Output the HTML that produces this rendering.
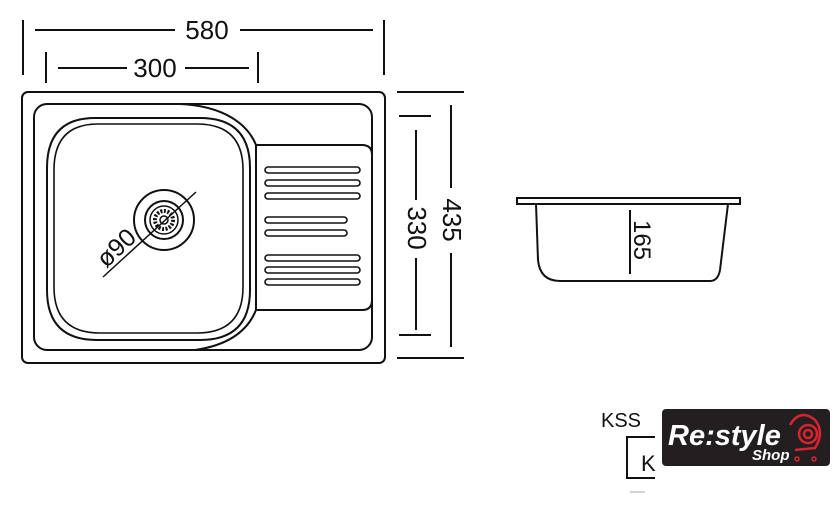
<!DOCTYPE html>
<html><head><style>
body{margin:0;background:#fff;width:840px;height:520px;overflow:hidden}
</style></head><body>
<svg width="840" height="520" viewBox="0 0 840 520" xmlns="http://www.w3.org/2000/svg" font-family="Liberation Sans, sans-serif">
<g stroke="#111" stroke-width="2" fill="none">
<line x1="23" y1="20" x2="23" y2="75"/><line x1="384" y1="20" x2="384" y2="75"/>
<line x1="35" y1="30" x2="175" y2="30"/><line x1="240" y1="30" x2="373" y2="30"/>
<line x1="46" y1="52" x2="46" y2="83"/><line x1="258" y1="52" x2="258" y2="83"/>
<line x1="58" y1="68" x2="127" y2="68"/><line x1="185" y1="68" x2="249" y2="68"/>
<rect x="22" y="92" width="363" height="271" rx="6"/>
<rect x="34" y="104" width="338" height="246" rx="13"/>
<path d="M180 104 C225 106 248 125 256 145 L256 310 C248 330 230 345 195 350"/>
<path d="M256 145 L362 145 Q372 145 372 155 L372 300 Q372 310 362 310 L256 310"/>
<path d="M95 118 L200 118 Q250 118 250 168 L250 290 Q250 340 200 340 L97 340 Q47 340 47 290 L47 168 Q47 118 95 118 Z"/>
<path d="M98 124 L197 124 Q243 124 243 170 L243 287 Q243 333 197 333 L100 333 Q54 333 54 287 L54 170 Q54 124 98 124 Z" stroke-width="1.6"/>
<circle cx="164" cy="220" r="30"/>
<circle cx="164" cy="220" r="19"/>
<circle cx="164" cy="220" r="14" stroke-width="1.5"/>
<circle cx="164" cy="220" r="9" stroke-width="4" stroke-dasharray="2 1.5"/>
<circle cx="164" cy="220" r="4" stroke-width="1.5"/>
<line x1="196" y1="192" x2="103" y2="277" stroke-width="1.5"/>
<g stroke-width="1.6">
<rect x="265" y="167" width="95" height="6" rx="3"/><rect x="265" y="180" width="95" height="6" rx="3"/><rect x="265" y="193" width="95" height="6" rx="3"/>
<rect x="265" y="217" width="82" height="6" rx="3"/><rect x="265" y="230" width="82" height="6" rx="3"/>
<rect x="265" y="255" width="95" height="6" rx="3"/><rect x="265" y="267" width="95" height="6" rx="3"/><rect x="265" y="279" width="95" height="6" rx="3"/>
</g>
<line x1="397" y1="92" x2="464" y2="92"/><line x1="397" y1="358" x2="464" y2="358"/>
<line x1="451" y1="105" x2="451" y2="188"/><line x1="451" y1="253" x2="451" y2="347"/>
<line x1="399" y1="116" x2="431" y2="116"/><line x1="399" y1="335" x2="431" y2="335"/>
<line x1="416" y1="130" x2="416" y2="200"/><line x1="416" y1="258" x2="416" y2="330"/>
<rect x="517" y="198" width="223" height="6"/>
<path d="M536 204 L538 260 Q540 281 560 281 L710 281 Q718 281 720 270 L728 204"/>
<line x1="630" y1="210" x2="630" y2="274"/>
<path d="M655 437 L627 437 L627 478 L655 478"/>
<line x1="630" y1="492" x2="645" y2="492" stroke="#aaa" stroke-width="1"/>
</g>
<g fill="#111">
<text x="207" y="39" font-size="26" text-anchor="middle">580</text>
<text x="155" y="77" font-size="26" text-anchor="middle">300</text>
<text transform="translate(122 254) rotate(-43)" font-size="25" text-anchor="middle">ø90</text>
<text transform="translate(443 220) rotate(90)" font-size="26" text-anchor="middle">435</text>
<text transform="translate(408 228) rotate(90)" font-size="26" text-anchor="middle">330</text>
<text transform="translate(634 240) rotate(90)" font-size="24" text-anchor="middle">165</text>
<text x="601" y="427" font-size="20">KSS</text>
<text x="641" y="471" font-size="22">K</text>
</g>
<rect x="662" y="409" width="168" height="57" rx="4" fill="#231f20"/>
<text x="668" y="445" font-size="29" font-style="italic" font-weight="bold" fill="#fff">Re:style</text>
<text x="752" y="460" font-size="15" font-style="italic" font-weight="bold" fill="#fff">Shop</text>
<g stroke="#d9232e" stroke-width="2.5" fill="none">
<circle cx="808" cy="434" r="9"/><circle cx="808" cy="434" r="4"/>
<path d="M790 425 Q800 408 815 420 Q825 432 815 448 L795 450"/>
<circle cx="797" cy="459" r="2" stroke-width="1.5"/><circle cx="814" cy="459" r="2" stroke-width="1.5"/>
</g>
</svg>
</body></html>
